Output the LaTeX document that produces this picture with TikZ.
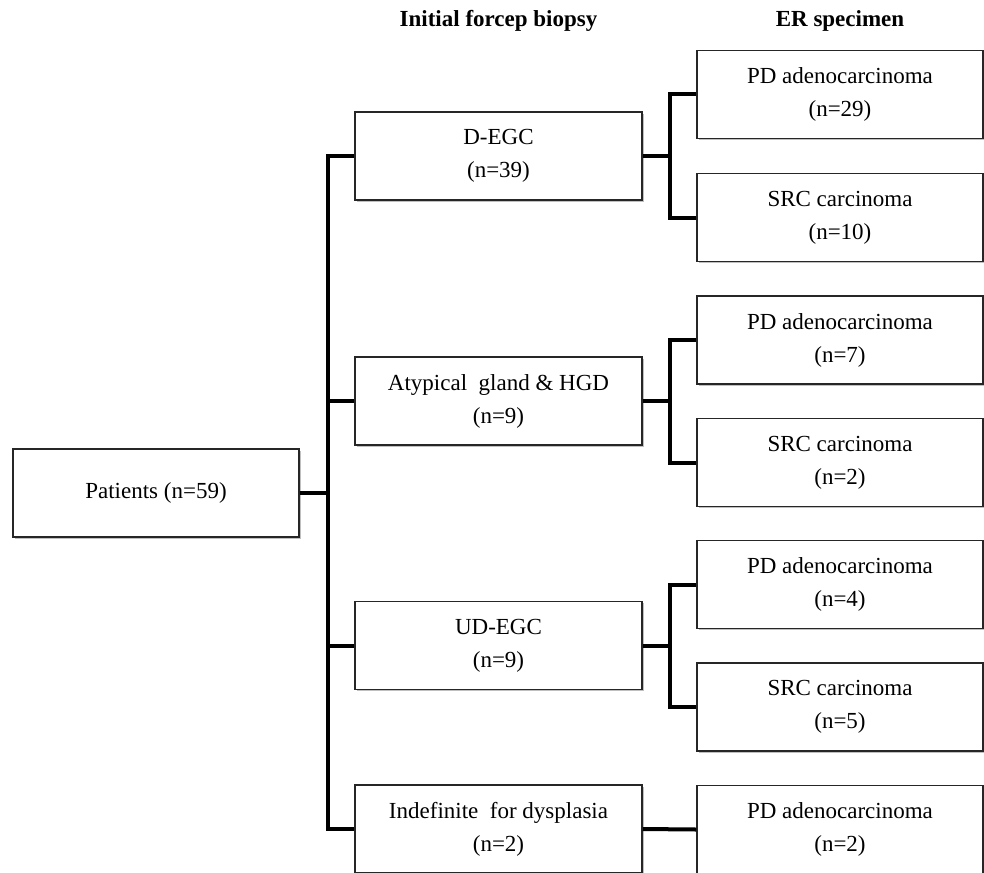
\documentclass[tikz,border=0pt]{standalone}
\usepackage{fontspec}
\setmainfont{Liberation Serif}
\usetikzlibrary{shadows}
\begin{document}
\begin{tikzpicture}[x=0.5pt,y=-0.5pt,
  box/.style={draw=black!85, line width=0.75pt, fill=white, align=center,
    inner sep=0pt, font=\fontsize{11.5pt}{16.5pt}\selectfont,
    drop shadow={shadow xshift=0.8pt, shadow yshift=-0.9pt, fill=black, opacity=0.25}},
  midbox/.style={box, minimum width=143.5pt, minimum height=44pt},
  rbox/.style={box, minimum width=143pt, minimum height=44pt},
  conn/.style={line width=2pt, black},
  title/.style={font=\fontsize{11.5pt}{14pt}\selectfont\bfseries}]
\useasboundingbox (0,0) rectangle (984,872);
\fill[white] (0,0) rectangle (984,872);
\clip (0,0) rectangle (984,872);

\node[title] (t1) at (498.5,21) {Initial forcep biopsy};
\node[title] (t2) at (840,21) {ER specimen};

\node[box, minimum width=143pt, minimum height=44pt] (pat) at (156,493) {Patients (n=59)};

\node[midbox] (deg) at (498.5,156) {D-EGC\\(n=39)};
\node[midbox] (aty) at (498.5,401) {Atypical~ gland \& HGD\\(n=9)};
\node[midbox] (ud) at (498.5,645.5) {UD-EGC\\(n=9)};
\node[midbox] (ind) at (498.5,829) {Indefinite~ for dysplasia\\(n=2)};

\node[rbox] (pd1) at (840,94.5) {PD adenocarcinoma\\(n=29)};
\node[rbox] (src1) at (840,217.5) {SRC carcinoma\\(n=10)};
\node[rbox] (pd2) at (840,340) {PD adenocarcinoma\\(n=7)};
\node[rbox] (src2) at (840,462.5) {SRC carcinoma\\(n=2)};
\node[rbox] (pd3) at (840,584.5) {PD adenocarcinoma\\(n=4)};
\node[rbox] (src3) at (840,707) {SRC carcinoma\\(n=5)};
\node[rbox] (pd4) at (840,829.5) {PD adenocarcinoma\\(n=2)};

% trunk
\draw[conn] (pat.east) -- ++(28,0) coordinate (trunk);
\draw[conn] (deg.west) -| (trunk) |- (ind.west);
\draw[conn] (aty.west) -- (aty.west -| trunk);
\draw[conn] (ud.west) -- (ud.west -| trunk);

% branches
\draw[conn] (deg.east) -- ++(27,0) coordinate (b1);
\draw[conn] (pd1.west) -| (b1) |- (src1.west);
\draw[conn] (aty.east) -- ++(27,0) coordinate (b2);
\draw[conn] (pd2.west) -| (b2) |- (src2.west);
\draw[conn] (ud.east) -- ++(27,0) coordinate (b3);
\draw[conn] (pd3.west) -| (b3) |- (src3.west);
\draw[conn] (ind.east) -- (pd4.west);
\end{tikzpicture}
\end{document}
